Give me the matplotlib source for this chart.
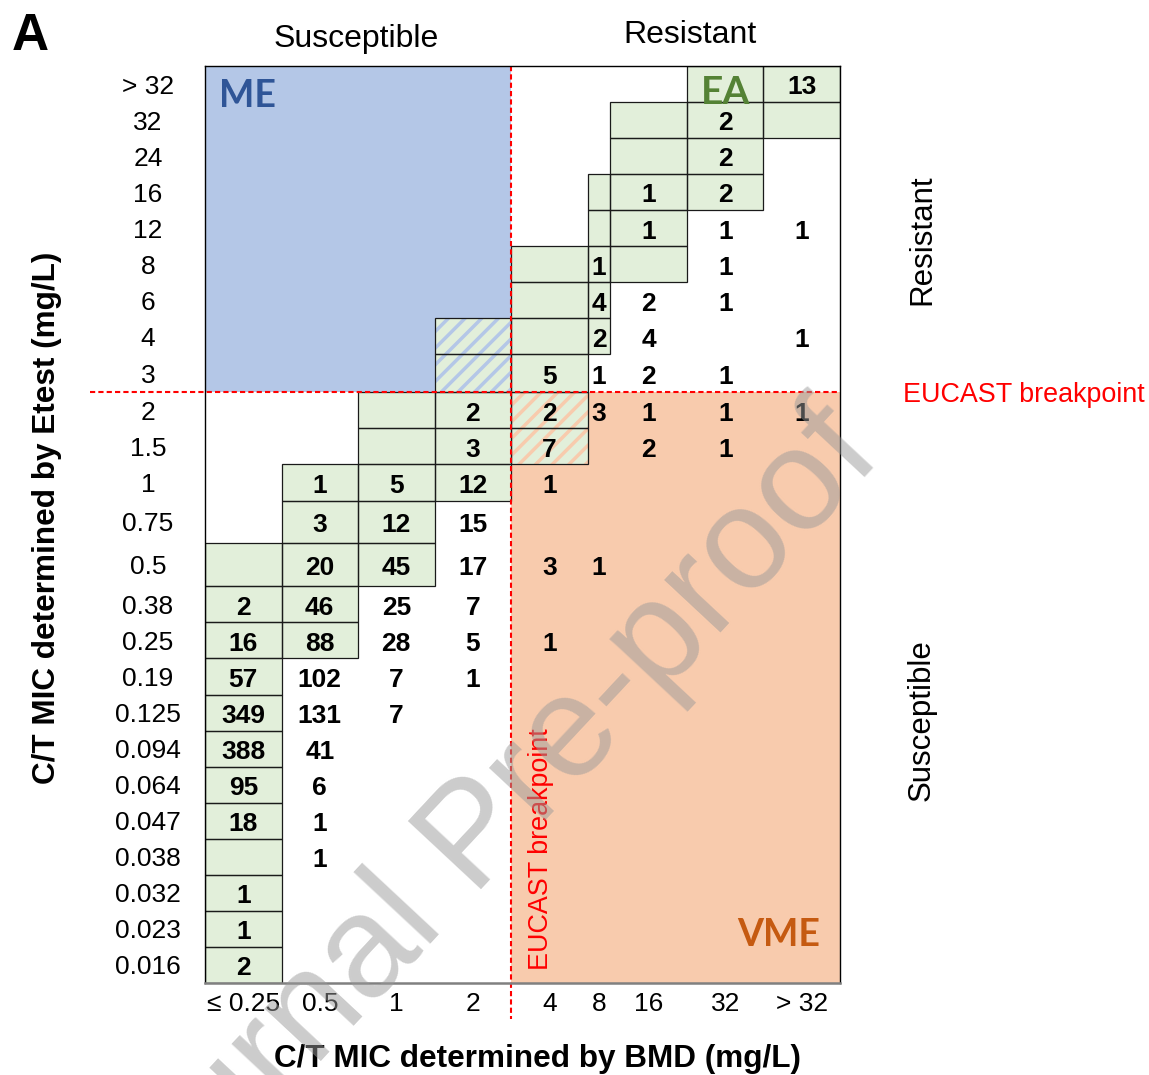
import matplotlib
matplotlib.use("Agg")
import matplotlib.pyplot as plt
from matplotlib.patches import Rectangle
import numpy as np

plt.rcParams["font.family"] = ["Liberation Sans", "DejaVu Sans"]
plt.rcParams["hatch.linewidth"] = 2.5

# ----------------------------------------------------------
# Data
# ----------------------------------------------------------

bmd_labels = ["≤ 0.25", "0.5", "1", "2", "4", "8", "16", "32", "> 32"]

etest_labels = ["> 32", "32", "24", "16", "12", "8", "6", "4", "3", "2",
                "1.5", "1", "0.75", "0.5", "0.38", "0.25", "0.19", "0.125",
                "0.094", "0.064", "0.047", "0.038", "0.032", "0.023", "0.016"]

# isolate counts, rows = Etest MIC (top to bottom), cols = BMD MIC
counts = [
    [0, 0, 0, 0, 0, 0, 0, 0, 13],
    [0, 0, 0, 0, 0, 0, 0, 2, 0],
    [0, 0, 0, 0, 0, 0, 0, 2, 0],
    [0, 0, 0, 0, 0, 0, 1, 2, 0],
    [0, 0, 0, 0, 0, 0, 1, 1, 1],
    [0, 0, 0, 0, 0, 1, 0, 1, 0],
    [0, 0, 0, 0, 0, 4, 2, 1, 0],
    [0, 0, 0, 0, 0, 2, 4, 0, 1],
    [0, 0, 0, 0, 5, 1, 2, 1, 0],
    [0, 0, 0, 2, 2, 3, 1, 1, 1],
    [0, 0, 0, 3, 7, 0, 2, 1, 0],
    [0, 1, 5, 12, 1, 0, 0, 0, 0],
    [0, 3, 12, 15, 0, 0, 0, 0, 0],
    [0, 20, 45, 17, 3, 1, 0, 0, 0],
    [2, 46, 25, 7, 0, 0, 0, 0, 0],
    [16, 88, 28, 5, 1, 0, 0, 0, 0],
    [57, 102, 7, 1, 0, 0, 0, 0, 0],
    [349, 131, 7, 0, 0, 0, 0, 0, 0],
    [388, 41, 0, 0, 0, 0, 0, 0, 0],
    [95, 6, 0, 0, 0, 0, 0, 0, 0],
    [18, 1, 0, 0, 0, 0, 0, 0, 0],
    [0, 1, 0, 0, 0, 0, 0, 0, 0],
    [1, 0, 0, 0, 0, 0, 0, 0, 0],
    [1, 0, 0, 0, 0, 0, 0, 0, 0],
    [2, 0, 0, 0, 0, 0, 0, 0, 0],
]

# essential agreement band: first and last BMD column per Etest row
ea_first = [7, 6, 6, 5, 5, 4, 4, 3, 3, 2, 2, 1, 1, 0, 0, 0,
            0, 0, 0, 0, 0, 0, 0, 0, 0]
ea_last = [8, 8, 7, 7, 6, 6, 5, 5, 4, 4, 4, 3, 2, 2, 1, 1,
           0, 0, 0, 0, 0, 0, 0, 0, 0]

# EUCAST breakpoint: first resistant BMD column / first susceptible Etest row
bp_col = 4
bp_row = 9

# ----------------------------------------------------------
# Layout
# ----------------------------------------------------------

W, H = 1149, 1075
col_w = [1, 1, 1, 1, 1, 0.3, 1, 1, 1]
row_h = [1] * 8 + [1.05] + [1] * 3 + [1.19, 1.19] + [1] * 11

x_edges = np.concatenate([[0], np.cumsum(col_w)])
y_edges = np.concatenate([[0], np.cumsum(row_h)])
x_mid = (x_edges[:-1] + x_edges[1:]) / 2
y_mid = (y_edges[:-1] + y_edges[1:]) / 2

BLUE = "#B4C7E7"
GREEN = "#E2EFDA"
ORANGE = "#F8CBAD"

fig = plt.figure(figsize=(W / 100, H / 100), dpi=100)
ax = fig.add_axes([205 / W, 1 - 983 / H, 635 / W, 917 / H])
ax.set_xlim(0, x_edges[-1])
ax.set_ylim(y_edges[-1], 0)

px_x = 635 / x_edges[-1]
px_y = 917 / y_edges[-1]


def to_data(x, y):
    return (x - 205) / px_x, (y - 66) / px_y


# error regions
xb = x_edges[bp_col]
yb = y_edges[bp_row]
ax.add_patch(Rectangle((0, 0), xb, yb, facecolor=BLUE, edgecolor="none", zorder=1))
ax.add_patch(Rectangle((xb, yb), x_edges[-1] - xb, y_edges[-1] - yb,
                       facecolor=ORANGE, edgecolor="none", zorder=1))

# essential agreement cells
for r in range(len(etest_labels)):
    for c in range(ea_first[r], ea_last[r] + 1):
        x0, y0 = x_edges[c], y_edges[r]
        w, h = col_w[c], row_h[r]
        ax.add_patch(Rectangle((x0, y0), w, h, facecolor=GREEN,
                               edgecolor="none", zorder=2))
        in_me = c < bp_col and r < bp_row
        in_vme = c >= bp_col and r >= bp_row
        if in_me or in_vme:
            ax.add_patch(Rectangle((x0, y0), w, h, facecolor="none",
                                   edgecolor=BLUE if in_me else ORANGE,
                                   hatch="//", linewidth=0, zorder=3))
        ax.add_patch(Rectangle((x0, y0), w, h, facecolor="none",
                               edgecolor="#1a1a1a", linewidth=0.9, zorder=4))

# counts (nudged a little below the cell centre, as in the original)
for r, row in enumerate(counts):
    for c, n in enumerate(row):
        if n > 0:
            ax.text(x_mid[c], y_mid[r] + 0.09, str(n), ha="center", va="center",
                    fontsize=19, fontweight="bold", zorder=6)

# breakpoint lines
ax.plot([xb, xb], [0, y_edges[-1] + 1.0], color="red", lw=1.5,
        ls=(0, (2.5, 1.5)), clip_on=False, zorder=5)
ax.plot([to_data(90, 0)[0], x_edges[-1]], [yb, yb], color="red", lw=1.5,
        ls=(0, (2.5, 1.5)), clip_on=False, zorder=5)

# region labels
ax.text(*to_data(219, 107), "ME", color="#2F5597", fontsize=27,
        fontweight="bold", family="Lato", ha="left", va="baseline", zorder=6)
ax.text(x_mid[7], y_edges[1] + 0.04, "EA", color="#548235", fontsize=28,
        fontweight="bold", family="Lato", ha="center", va="baseline", zorder=6)
ax.text(*to_data(820, 946), "VME", color="#C55A11", fontsize=27,
        fontweight="bold", family="Lato", ha="right", va="baseline", zorder=6)

ax.text(*to_data(541, 970), "EUCAST breakpoint", color="red", fontsize=19.4,
        rotation=90, ha="center", va="bottom", zorder=6)
ax.text(*to_data(903, 395), "EUCAST breakpoint", color="red", fontsize=19.4,
        ha="left", va="center", clip_on=False)

# ticks
ax.set_xticks(x_mid, bmd_labels, fontsize=19)
ax.set_yticks(y_mid, etest_labels, fontsize=19)
for lbl in ax.get_yticklabels():
    lbl.set_horizontalalignment("center")
ax.tick_params(axis="y", length=0, pad=41)
ax.tick_params(axis="x", length=0, pad=6.5)

for side in ["top", "left", "right"]:
    ax.spines[side].set_color("black")
    ax.spines[side].set_linewidth(1.0)
ax.spines["bottom"].set_color("#808080")
ax.spines["bottom"].set_linewidth(1.8)
for s in ax.spines.values():
    s.set_zorder(7)

# headers and axis titles
fig.text(30 / W, 1 - 37 / H, "A", fontsize=37, fontweight="bold",
         ha="center", va="center")
fig.text(356 / W, 1 - 39 / H, "Susceptible", fontsize=23, ha="center", va="center")
fig.text(690 / W, 1 - 35 / H, "Resistant", fontsize=23, ha="center", va="center")
fig.text(922 / W, 1 - 240 / H, "Resistant", fontsize=22.5, rotation=90,
         ha="center", va="center")
fig.text(922 / W, 1 - 720 / H, "Susceptible", fontsize=22.5, rotation=90,
         ha="center", va="center")
fig.text(47 / W, 1 - 518 / H, "C/T MIC determined by Etest (mg/L)", fontsize=22.7,
         fontweight="bold", rotation=90, ha="center", va="center")
fig.text(537 / W, 1 - 1059 / H, "C/T MIC determined by BMD (mg/L)", fontsize=22.7,
         fontweight="bold", ha="center", va="center")

# watermark
fig.text(476 / W, 1 - 840 / H, "Journal Pre-proof", fontsize=104, rotation=47,
         color="#9a9a9a", alpha=0.5, ha="center", va="center",
         rotation_mode="anchor", zorder=10)

fig.savefig("out.png", dpi=100)
